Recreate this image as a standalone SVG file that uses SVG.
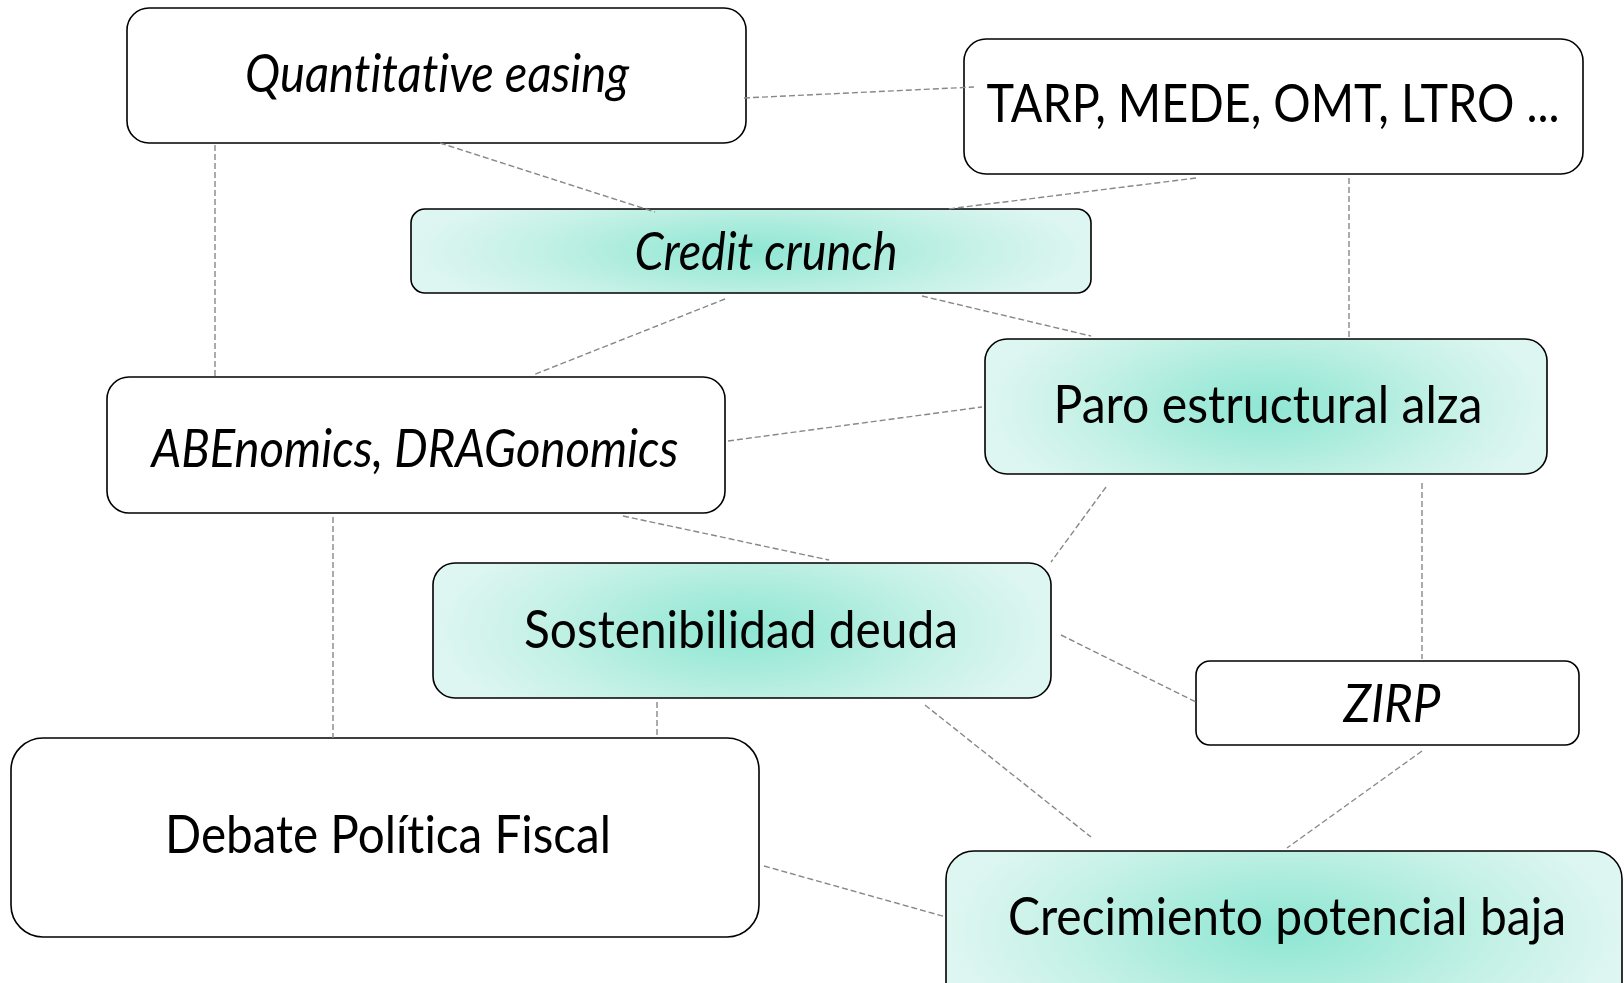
<svg xmlns="http://www.w3.org/2000/svg" width="1624" height="983" viewBox="0 0 1624 983">
<defs>
<radialGradient id="mint" cx="0.5" cy="0.5" r="0.5" gradientTransform="translate(0.5,0.5) scale(1,1.8) translate(-0.5,-0.5)">
<stop offset="0" stop-color="#8fe6d3"/>
<stop offset="0.3" stop-color="#a6ebdb"/>
<stop offset="0.65" stop-color="#c5f1e6"/>
<stop offset="1" stop-color="#def6f1"/>
</radialGradient>
<style>
.box{fill:#fff;stroke:#000;stroke-width:1.6}
.mint{fill:url(#mint);stroke:#000;stroke-width:1.6}
.t{font-family:Lato,"Open Sans","Liberation Sans",sans-serif;font-size:52px;fill:#000;text-anchor:middle;font-variant-ligatures:none;font-feature-settings:"liga" 0,"dlig" 0}
.i{font-style:italic}
.c{stroke:#888;stroke-width:1.4;stroke-dasharray:6 3;fill:none}
</style>
</defs>
<rect width="1624" height="983" fill="#fff"/>
<g id="n-qe"><rect class="box" x="127" y="8" width="619" height="135" rx="22"/><text class="t i" x="437" y="92" textLength="384" lengthAdjust="spacingAndGlyphs">Quantitative easing</text></g>
<g id="n-tarp"><rect class="box" x="964" y="39" width="619" height="135" rx="22"/><text class="t" x="1273" y="122" textLength="573" lengthAdjust="spacingAndGlyphs">TARP, MEDE, OMT, LTRO ...</text></g>
<g id="n-credit"><rect class="mint" x="411" y="209" width="680" height="84" rx="14"/><text class="t i" x="766" y="270" textLength="263" lengthAdjust="spacingAndGlyphs">Credit crunch</text></g>
<g id="n-abe"><rect class="box" x="107" y="377" width="618" height="136" rx="22"/><text class="t i" x="415" y="467" textLength="527" lengthAdjust="spacingAndGlyphs">ABEnomics, DRAGonomics</text></g>
<g id="n-paro"><rect class="mint" x="985" y="339" width="562" height="135" rx="22"/><text class="t" x="1268" y="423" textLength="429" lengthAdjust="spacingAndGlyphs">Paro estructural alza</text></g>
<g id="n-sost"><rect class="mint" x="433" y="563" width="618" height="135" rx="22"/><text class="t" x="741" y="648" textLength="434" lengthAdjust="spacingAndGlyphs">Sostenibilidad deuda</text></g>
<g id="n-zirp"><rect class="box" x="1196" y="661" width="383" height="84" rx="14"/><text class="t i" x="1392" y="722" textLength="97" lengthAdjust="spacingAndGlyphs">ZIRP</text></g>
<g id="n-debate"><rect class="box" x="11" y="738" width="748" height="199" rx="32"/><text class="t" x="388" y="853" textLength="446" lengthAdjust="spacingAndGlyphs">Debate Política Fiscal</text></g>
<g id="n-crec"><rect class="mint" x="946" y="851" width="676" height="160" rx="28"/><text class="t" x="1287" y="935" textLength="558" lengthAdjust="spacingAndGlyphs">Crecimiento potencial baja</text></g>
<g id="connectors">
<line class="c" x1="744" y1="98" x2="974" y2="87"/>
<line class="c" x1="440" y1="143" x2="655" y2="212"/>
<line class="c" x1="1196" y1="178" x2="948" y2="209"/>
<line class="c" x1="215" y1="145" x2="215" y2="377"/>
<line class="c" x1="1349" y1="178" x2="1349" y2="339"/>
<line class="c" x1="725" y1="299" x2="533" y2="375"/>
<line class="c" x1="922" y1="296" x2="1091" y2="336"/>
<line class="c" x1="728" y1="441" x2="982" y2="407"/>
<line class="c" x1="623" y1="516" x2="829" y2="560"/>
<line class="c" x1="1106" y1="487" x2="1051" y2="562"/>
<line class="c" x1="1422" y1="483" x2="1422" y2="659"/>
<line class="c" x1="1061" y1="635" x2="1196" y2="702"/>
<line class="c" x1="333" y1="517" x2="333" y2="738"/>
<line class="c" x1="657" y1="702" x2="657" y2="738"/>
<line class="c" x1="925" y1="705" x2="1091" y2="837"/>
<line class="c" x1="1422" y1="751" x2="1287" y2="848"/>
<line class="c" x1="764" y1="866" x2="946" y2="917"/>
</g>
</svg>
